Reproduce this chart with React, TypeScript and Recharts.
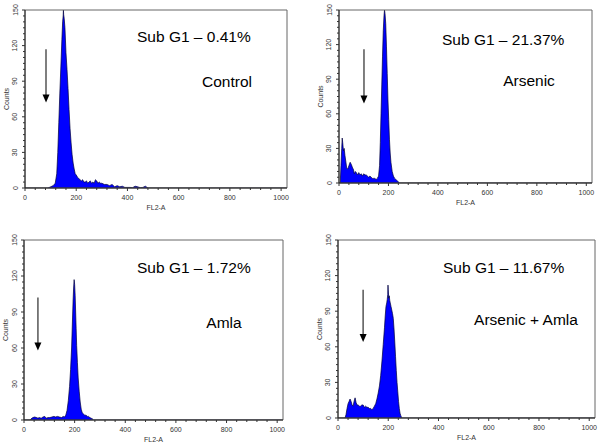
import React from 'react';
import { AreaChart, Area, XAxis, YAxis, ReferenceArea, ReferenceLine, ReferenceDot } from 'recharts';

// ---------- tick labels ----------
const X_MAJOR = [0, 200, 400, 600, 800, 1000];
const Y_MAJOR = [0, 30, 60, 90, 120, 150];
const X_TICKS = Array.from({ length: 26 }, (_, i) => i * 40);
const Y_TICKS = Array.from({ length: 31 }, (_, i) => i * 5);

// ---------- Control ----------
const CONTROL_FL2 = [0, 90, 100, 110, 118, 124, 128, 132, 136, 140, 144, 147, 149, 150, 151, 153, 156, 160, 164, 168, 172, 176, 180, 184, 188, 192, 196, 200, 205, 210, 215, 220, 225, 230, 235, 240, 245, 250, 255, 260, 265, 270, 275, 280, 285, 290, 295, 300, 310, 320, 330, 340, 350, 360, 370, 380, 390, 400, 410, 420, 430, 440, 450, 460, 470, 480, 1023];
const CONTROL_COUNTS = [0, 0, 1, 2, 4, 12, 30, 55, 80, 102, 125, 140, 145, 150, 146, 143, 135, 114, 100, 84, 66, 50, 38, 28, 21, 16, 12, 11, 9, 8, 7, 6, 7, 5, 5, 6, 4, 5, 6, 4, 5, 4, 7, 6, 4, 5, 4, 4, 3, 3, 2, 3, 1, 2, 1, 1.5, 0.5, 0.5, 0.5, 0.3, 1.5, 1, 0.3, 0.5, 1.5, 0, 0];

// ---------- Arsenic ----------
const ARSENIC_FL2 = [0, 5, 8, 11, 13, 15, 18, 21, 24, 28, 31, 35, 40, 45, 50, 55, 58, 62, 66, 70, 75, 80, 85, 90, 95, 100, 105, 110, 115, 120, 125, 130, 135, 140, 145, 150, 155, 160, 164, 167, 170, 173, 176, 179, 182, 184, 186, 189, 192, 195, 198, 201, 204, 207, 210, 215, 220, 225, 230, 235, 240, 245, 1023];
const ARSENIC_COUNTS = [0, 0, 15, 30, 39, 35, 28, 30, 24, 18, 13, 12, 15, 18, 16, 13, 12, 8, 10, 9, 7, 9, 7, 8, 6, 8, 7, 7, 6, 5, 6, 5, 4, 4, 4, 3, 4, 6, 15, 35, 60, 85, 110, 132, 145, 150, 147, 138, 118, 95, 72, 55, 38, 26, 18, 10, 6, 4, 3, 2, 1, 0, 0];

// ---------- Amla ----------
const AMLA_FL2 = [0, 25, 28, 35, 42, 50, 55, 60, 68, 75, 82, 88, 95, 102, 110, 118, 125, 132, 140, 148, 155, 160, 165, 170, 175, 180, 184, 188, 191, 194, 196, 198, 200, 202, 204, 206, 208, 211, 214, 218, 222, 226, 230, 235, 240, 245, 250, 255, 260, 265, 270, 275, 1023];
const AMLA_COUNTS = [0, 0, 1, 2, 2.5, 2, 1.5, 2, 1.5, 2.5, 3, 1.5, 2, 2, 2.5, 3, 2.5, 3, 2.5, 2, 3, 2.5, 4, 8, 16, 28, 42, 60, 80, 100, 110, 117, 113, 104, 90, 76, 62, 48, 35, 24, 15, 9, 6, 5, 4, 4, 3, 3, 2, 1.5, 1, 0, 0];

// ---------- Arsenic + Amla ----------
const COMBO_FL2 = [0, 28, 32, 36, 40, 44, 48, 52, 56, 60, 64, 68, 72, 76, 80, 85, 90, 95, 100, 105, 110, 115, 120, 125, 130, 135, 140, 145, 150, 155, 160, 165, 170, 175, 180, 185, 188, 191, 194, 196, 198, 199, 200, 202, 204, 206, 208, 211, 214, 217, 220, 223, 226, 229, 232, 235, 238, 241, 244, 247, 250, 254, 1023];
const COMBO_COUNTS = [0, 0, 3, 8, 12, 14, 16, 14, 11, 10, 14, 17, 13, 11, 11, 10, 10, 11, 11, 9, 10, 9, 9, 8, 8, 7, 8, 10, 12, 16, 21, 27, 36, 48, 62, 76, 86, 94, 97, 100, 104, 112, 108, 101, 103, 99, 97, 94, 91, 88, 84, 75, 64, 52, 40, 30, 22, 14, 8, 4, 2, 0, 0];

const FONT = '"Liberation Sans", Arial, sans-serif';

const XTick = (p: any) => {
  const { x, y, payload } = p;
  const major = X_MAJOR.includes(payload.value);
  return (
    <g>
      <line x1={x} x2={x} y1={y} y2={y + (major ? 3 : 2)} stroke="#333" strokeWidth={1} />
      {major && (
        <text x={x} y={y + 9} textAnchor="middle" dominantBaseline="central" fontSize={7} fill="#333" fontFamily={FONT}>
          {payload.value}
        </text>
      )}
    </g>
  );
};

const YTick = (p: any) => {
  const { x, y, payload } = p;
  const major = Y_MAJOR.includes(payload.value);
  return (
    <g>
      <line x1={x} x2={x - (major ? 3 : 2)} y1={y} y2={y} stroke="#333" strokeWidth={1} />
      {major && (
        <text x={x - 10} y={y} textAnchor="middle" dominantBaseline="central" fontSize={7} fill="#333" fontFamily={FONT} transform={`rotate(-90, ${x - 10}, ${y})`}>
          {payload.value}
        </text>
      )}
    </g>
  );
};

const XLabel = (p: any) => {
  const vb = p.viewBox;
  if (!vb) return null;
  return (
    <text x={vb.x + vb.width / 2} y={vb.y + 19} textAnchor="middle" dominantBaseline="central" fontSize={7} fill="#333" fontFamily={FONT}>
      FL2-A
    </text>
  );
};

const YLabel = (p: any) => {
  const vb = p.viewBox;
  if (!vb) return null;
  const cx = vb.x + vb.width - 19;
  const cy = vb.y + vb.height / 2;
  return (
    <text x={cx} y={cy} textAnchor="middle" dominantBaseline="central" fontSize={7} fill="#333" fontFamily={FONT} transform={`rotate(-90, ${cx}, ${cy})`}>
      Counts
    </text>
  );
};

type Box = { x: number; y: number; w: number; h: number };
type Plot = { l: number; r: number; t: number; b: number };

function Panel(props: {
  box: Box; plot: Plot; fl2: number[]; counts: number[];
  arrowX: number; arrowTop: number; arrowTip: number;
  subG1: string; subLeft: number; subY: number;
  name: string; nameX: number; nameY: number;
}) {
  const { box, plot, fl2, counts } = props;
  const data = fl2.map((x, i) => ({ x, c: counts[i] }));
  const W = 20;
  const H = 20;
  const margin = {
    left: plot.l - box.x - W,
    right: box.x + box.w - plot.r,
    top: plot.t - box.y,
    bottom: box.y + box.h - plot.b - H,
  };
  const arrowHead = (p: any) => (
    <path d={`M${p.cx - 3.5},${p.cy - 8} L${p.cx + 3.5},${p.cy - 8} L${p.cx},${p.cy} Z`} fill="#000" />
  );
  return (
    <>
      <div style={{ position: 'absolute', left: box.x, top: box.y, width: box.w, height: box.h }}>
        <AreaChart width={box.w} height={box.h} data={data} margin={margin}>
          <XAxis type="number" dataKey="x" domain={[0, 1023]} ticks={X_TICKS} interval={0} tickSize={0} tickMargin={0}
            tick={(p: any) => <XTick {...p} />} height={H} axisLine={{ stroke: '#222' }} allowDataOverflow
            label={{ content: (p: any) => <XLabel {...p} /> }} />
          <YAxis type="number" domain={[0, 150]} ticks={Y_TICKS} interval={0} tickSize={0} tickMargin={0}
            tick={(p: any) => <YTick {...p} />} width={W} axisLine={{ stroke: '#222' }} allowDataOverflow
            label={{ content: (p: any) => <YLabel {...p} /> }} />
          <Area type="linear" dataKey="c" stroke="#00003a" strokeWidth={0.7} fill="#0000ff" fillOpacity={1}
            isAnimationActive={false} dot={false} activeDot={false} baseValue={0} />
          <ReferenceArea x1={0} x2={1023} y1={0} y2={150} fill="none" stroke="#666" strokeWidth={1} />
          <ReferenceLine segment={[{ x: props.arrowX, y: props.arrowTop }, { x: props.arrowX, y: props.arrowTip + 5 }]}
            stroke="#555" strokeWidth={1.5} />
          <ReferenceDot x={props.arrowX} y={props.arrowTip} r={4} shape={arrowHead} />
        </AreaChart>
      </div>
      <div style={{ position: 'absolute', left: props.subLeft, top: props.subY, transform: 'translateY(-50%)', fontFamily: FONT, fontSize: 15.5, color: '#000', whiteSpace: 'nowrap' }}>
        {props.subG1}
      </div>
      <div style={{ position: 'absolute', left: props.nameX, top: props.nameY, transform: 'translate(-50%, -50%)', fontFamily: FONT, fontSize: 15.5, color: '#000', whiteSpace: 'nowrap' }}>
        {props.name}
      </div>
    </>
  );
}

export default function App() {
  return (
    <div style={{ position: 'absolute', left: 0, top: 0, width: 600, height: 443, background: '#fff', overflow: 'hidden' }}>
      <Panel box={{ x: 0, y: 0, w: 300, h: 222 }} plot={{ l: 25, r: 287, t: 10, b: 188 }}
        fl2={CONTROL_FL2} counts={CONTROL_COUNTS} arrowX={82} arrowTop={117} arrowTip={72}
        subG1="Sub G1 – 0.41%" subLeft={137} subY={37} name="Control" nameX={227} nameY={82} />
      <Panel box={{ x: 300, y: 0, w: 300, h: 222 }} plot={{ l: 339, r: 592, t: 10, b: 183 }}
        fl2={ARSENIC_FL2} counts={ARSENIC_COUNTS} arrowX={101} arrowTop={116} arrowTip={69}
        subG1="Sub G1 – 21.37%" subLeft={442} subY={40} name="Arsenic" nameX={529} nameY={81} />
      <Panel box={{ x: 0, y: 225, w: 300, h: 218 }} plot={{ l: 24, r: 283, t: 240, b: 420 }}
        fl2={AMLA_FL2} counts={AMLA_COUNTS} arrowX={55} arrowTop={102} arrowTip={58}
        subG1="Sub G1 – 1.72%" subLeft={137} subY={268} name="Amla" nameX={224} nameY={323} />
      <Panel box={{ x: 300, y: 225, w: 300, h: 218 }} plot={{ l: 338, r: 595, t: 240, b: 418 }}
        fl2={COMBO_FL2} counts={COMBO_COUNTS} arrowX={100} arrowTop={108} arrowTip={64}
        subG1="Sub G1 – 11.67%" subLeft={443} subY={268} name="Arsenic + Amla" nameX={526} nameY={320} />
    </div>
  );
}
